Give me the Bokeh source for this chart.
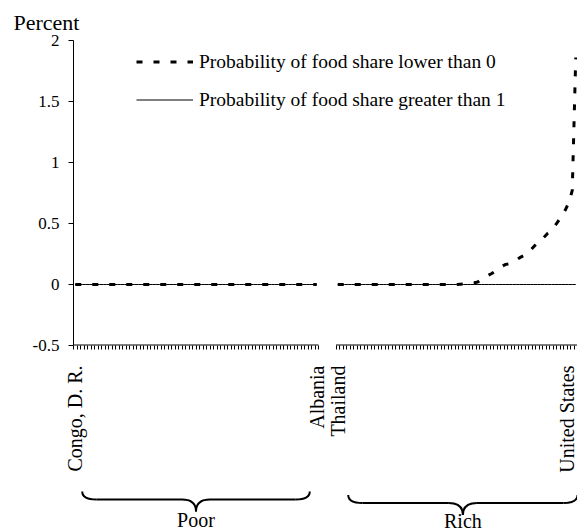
import math

from bokeh.core.properties import value
from bokeh.embed import file_html
from bokeh.layouts import column
from bokeh.models import FixedTicker, Legend, LegendItem, Range1d
from bokeh.plotting import figure
from bokeh.resources import INLINE

# Probability (in percent) that a country's predicted food share falls
# outside [0, 1]; countries ordered from poorest to richest in each group.
poor_lower_than_0 = [
    0.0, 0.0, 0.0, 0.0, 0.0, 0.0, 0.0, 0.0, 0.0, 0.0,
    0.0, 0.0, 0.0, 0.0, 0.0, 0.0, 0.0, 0.0, 0.0, 0.0,
    0.0, 0.0, 0.0, 0.0, 0.0, 0.0, 0.0, 0.0, 0.0, 0.0,
    0.0, 0.0, 0.0, 0.0, 0.0, 0.0, 0.0, 0.0, 0.0, 0.0,
    0.0, 0.0, 0.0, 0.0, 0.0, 0.0, 0.0, 0.0, 0.0, 0.0,
    0.0, 0.0, 0.0, 0.0, 0.0, 0.0, 0.0, 0.0, 0.0, 0.0,
    0.0, 0.0, 0.0, 0.0, 0.0, 0.0, 0.0, 0.0, 0.0, 0.0,
]
poor_greater_than_1 = [
    0.0, 0.0, 0.0, 0.0, 0.0, 0.0, 0.0, 0.0, 0.0, 0.0,
    0.0, 0.0, 0.0, 0.0, 0.0, 0.0, 0.0, 0.0, 0.0, 0.0,
    0.0, 0.0, 0.0, 0.0, 0.0, 0.0, 0.0, 0.0, 0.0, 0.0,
    0.0, 0.0, 0.0, 0.0, 0.0, 0.0, 0.0, 0.0, 0.0, 0.0,
    0.0, 0.0, 0.0, 0.0, 0.0, 0.0, 0.0, 0.0, 0.0, 0.0,
    0.0, 0.0, 0.0, 0.0, 0.0, 0.0, 0.0, 0.0, 0.0, 0.0,
    0.0, 0.0, 0.0, 0.0, 0.0, 0.0, 0.0, 0.0, 0.0, 0.0,
]
rich_lower_than_0 = [
    0.0, 0.0, 0.0, 0.0, 0.0, 0.0, 0.0, 0.0, 0.0, 0.0,
    0.0, 0.0, 0.0, 0.0, 0.0, 0.0, 0.0, 0.0, 0.0, 0.0,
    0.0, 0.0, 0.0, 0.0, 0.0, 0.0, 0.0, 0.0, 0.0, 0.0,
    0.0, 0.0, 0.0, 0.0, 0.0, 0.002, 0.004, 0.007, 0.01, 0.014,
    0.02, 0.04, 0.06, 0.075, 0.09, 0.11, 0.13, 0.15, 0.165, 0.17,
    0.18, 0.2, 0.22, 0.235, 0.25, 0.28, 0.31, 0.34, 0.36, 0.39,
    0.42, 0.44, 0.48, 0.52, 0.56, 0.61, 0.67, 0.77, 1.86,
]
rich_greater_than_1 = [
    0.0, 0.0, 0.0, 0.0, 0.0, 0.0, 0.0, 0.0, 0.0, 0.0,
    0.0, 0.0, 0.0, 0.0, 0.0, 0.0, 0.0, 0.0, 0.0, 0.0,
    0.0, 0.0, 0.0, 0.0, 0.0, 0.0, 0.0, 0.0, 0.0, 0.0,
    0.0, 0.0, 0.0, 0.0, 0.0, 0.0, 0.0, 0.0, 0.0, 0.0,
    0.0, 0.0, 0.0, 0.0, 0.0, 0.0, 0.0, 0.0, 0.0, 0.0,
    0.0, 0.0, 0.0, 0.0, 0.0, 0.0, 0.0, 0.0, 0.0, 0.0,
    0.0, 0.0, 0.0, 0.0, 0.0, 0.0, 0.0, 0.0, 0.0,
]

group_names = ["Poor", "Rich"]
poor_end_countries = ["Congo, D. R.", "Albania"]
rich_end_countries = ["Thailand", "United States"]
y_ticks = [-0.5, 0, 0.5, 1, 1.5, 2]
y_tick_labels = ["-0.5", "0", "0.5", "1", "1.5", "2"]
legend_labels = [
    "Probability of food share lower than 0",
    "Probability of food share greater than 1",
]

SERIF = "Liberation Serif"
GAP = 5  # empty category slots between the two groups

n_poor = len(poor_lower_than_0)
n_rich = len(rich_lower_than_0)
poor_x = list(range(n_poor))
rich_start = n_poor + GAP
rich_x = [rich_start + i for i in range(n_rich)]

x_range = Range1d(-0.5, rich_x[-1] + 0.5)

p = figure(
    width=577, height=485,
    x_range=x_range, y_range=Range1d(-0.5, 2),
    output_backend="svg", toolbar_location=None,
    min_border_left=73, min_border_right=0,
    min_border_top=40, min_border_bottom=140,
)
p.outline_line_color = None
p.grid.visible = False
p.background_fill_color = "white"
p.border_fill_color = "white"

p.title.text = "Percent"
p.title.align = "left"
p.title.offset = -60
p.title.standoff = 12
p.title.text_font = SERIF
p.title.text_font_size = "22px"
p.title.text_font_style = "normal"
p.title.text_color = "black"

# y axis
ya = p.yaxis[0]
ya.ticker = FixedTicker(ticks=y_ticks)
ya.major_label_overrides = dict(zip(y_ticks, y_tick_labels))
ya.axis_line_color = "black"
ya.major_tick_line_color = "black"
ya.major_tick_out = 5
ya.major_tick_in = 0
ya.minor_tick_out = 0
ya.minor_tick_in = 0
ya.major_label_standoff = 9
ya.major_label_text_font = SERIF
ya.major_label_text_font_size = "17px"
ya.major_label_text_color = "black"

# x axis: one small tick between neighbouring countries, names at the ends
boundaries = [i - 0.5 for i in range(n_poor + 1)] + \
             [rich_start + i - 0.5 for i in range(n_rich + 1)]
end_positions = [poor_x[0], poor_x[-1], rich_x[0], rich_x[-1]]
end_names = poor_end_countries + rich_end_countries
xa = p.xaxis[0]
xa.ticker = FixedTicker(ticks=end_positions, minor_ticks=boundaries)
xa.major_label_overrides = dict(zip(end_positions, end_names))
xa.axis_line_color = None
xa.major_tick_out = 0
xa.major_tick_in = 0
xa.minor_tick_out = 4
xa.minor_tick_in = 0
xa.minor_tick_line_color = "black"
xa.major_label_orientation = math.pi / 2
xa.major_label_standoff = 16
xa.major_label_text_font = SERIF
xa.major_label_text_font_size = "20px"
xa.major_label_text_color = "black"

# axis baseline, broken between the two groups
p.segment(
    x0=[poor_x[0] - 0.5, rich_x[0] - 0.5], y0=[-0.5, -0.5],
    x1=[poor_x[-1] + 0.5, rich_x[-1] + 0.5], y1=[-0.5, -0.5],
    line_color="black", line_width=2,
)

solid_poor = p.line(poor_x, poor_greater_than_1, line_color="black", line_width=1)
p.line(rich_x, rich_greater_than_1, line_color="black", line_width=1)
dash_poor = p.line(poor_x, poor_lower_than_0, line_color="black", line_width=3,
                   line_dash="6 11")
p.line(rich_x, rich_lower_than_0, line_color="black", line_width=3,
       line_dash="6 11")

legend = Legend(
    items=[
        LegendItem(label=legend_labels[0], renderers=[dash_poor]),
        LegendItem(label=legend_labels[1], renderers=[solid_poor]),
    ],
    location=(63, 234),
    glyph_width=57, glyph_height=23, label_height=23,
    label_standoff=6, spacing=15, padding=0, margin=0,
    border_line_color=None, background_fill_alpha=0,
    label_text_font=SERIF, label_text_font_size="19.5px",
    label_text_color="black",
)
p.add_layout(legend)

# braces grouping the countries, drawn on the same category scale
b = figure(
    width=577, height=46,
    x_range=x_range, y_range=Range1d(0, 46),
    x_axis_type=None, y_axis_type=None,
    output_backend="svg", toolbar_location=None,
    min_border_left=73, min_border_right=0,
    min_border_top=0, min_border_bottom=0,
)
b.outline_line_color = None
b.grid.visible = False
b.background_fill_color = "white"
b.border_fill_color = "white"

brace_spans = [(poor_x[0] + 2, poor_x[-1] - 2), (rich_x[0] + 3, rich_x[-1] + 0.5)]
brace_drop = [0, 3.5]
label_y = [11.5, 10.5]
r = 4.0
for (left, right), drop, ly, name in zip(brace_spans, brace_drop, label_y, group_names):
    tip, flat, cusp = 40 - drop, 32 - drop, 20 - drop
    mid = (left + right) / 2
    b.quadratic(x0=[left, mid - r, mid + r, right],
                y0=[tip, flat, flat, tip],
                x1=[left + r, mid, mid, right - r],
                y1=[flat, cusp, cusp, flat],
                cx=[left, mid, mid, right],
                cy=[flat, flat, flat, flat],
                line_color="black", line_width=2)
    b.segment(x0=[left + r, mid + r], y0=[flat, flat],
              x1=[mid - r, right - r], y1=[flat, flat],
              line_color="black", line_width=2)
    b.text(x=[mid], y=[ly], text=[name], text_font=value(SERIF),
           text_font_size="20px", text_align="center",
           text_baseline="alphabetic", text_color="black")

layout = column(p, b, spacing=0)
open("out.html", "w").write(file_html(layout, INLINE))
